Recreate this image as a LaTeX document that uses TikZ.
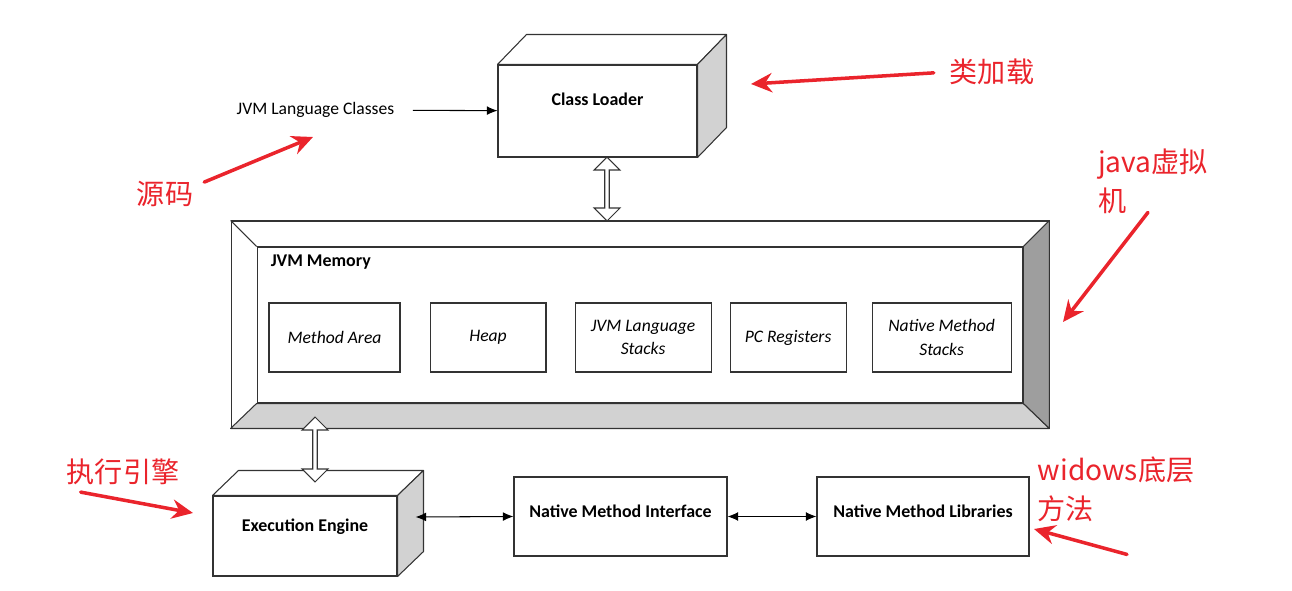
\documentclass[tikz,border=0pt]{standalone}
\usepackage{fontspec}
\setmainfont{Carlito}
\newfontfamily\cjk{Noto Sans CJK SC}
\usepackage{xcolor}
\usepackage{tikz}
\usetikzlibrary{positioning,arrows.meta,shapes.arrows,calc}

\definecolor{jred}{RGB}{234,36,44}
\definecolor{sidegray}{RGB}{210,210,210}
\definecolor{bevelgray}{RGB}{158,158,158}

\begin{document}
\begin{tikzpicture}[x=0.02cm, y=-0.02cm,
    >={Latex[length=6pt, width=5pt]},
    box/.style={draw=black!80, line width=0.6pt, fill=white, align=center, inner sep=2pt, minimum width=#1},
    box/.default=2.32cm,
    membox/.style={box=#1, minimum height=1.38cm, font=\itshape\fontsize{10}{13.5}\selectfont},
    membox/.default=2.32cm,
    face/.style={draw=black!80, line width=0.6pt, fill=#1, line join=round},
    face/.default=white,
    bold/.style={font=\bfseries\fontsize{10.2}{12}\selectfont},
    plain/.style={font=\fontsize{10}{12}\selectfont},
    dblarrow/.style={double arrow, draw=black!80, line width=0.6pt, fill=white, rotate=90,
        minimum width=0.52cm, double arrow head extend=0.05cm, double arrow tip angle=90, inner sep=0pt},
    arr/.style={->, line width=0.6pt},
    biarr/.style={<->, line width=0.6pt},
    notetext/.style={font=\cjk\fontsize{16}{22}\selectfont, text=jred, align=left, inner sep=1pt},
    note/.style={draw=jred, line width=2pt, line cap=round, -{Stealth[length=12pt, width=11pt, inset=4pt]}},
]
\useasboundingbox (0,0) rectangle (1292,591);

% --- Class Loader ---
\node[box=3.98cm, minimum height=1.84cm] (loader) at (597.5,111) {};
\filldraw[face] (loader.north west) -- ++(29,-30) -- ([shift={(29,-30)}]loader.north east) -- (loader.north east) -- cycle;
\filldraw[face=sidegray] (loader.north east) -- ++(29,-30) -- ([shift={(29,-30)}]loader.south east) -- (loader.south east) -- cycle;
\node[bold] (loadertxt) at ([yshift=0.24cm]loader.center) {Class Loader};

% source classes
\node[plain] (classes) at (315.5,110) {JVM Language Classes};
\draw[arr, shorten <=0.25cm] (classes) -- (loader);

% --- JVM Memory ---
\node[box=16.36cm, minimum height=4.14cm] (mem) at (640,324.5) {};
\node[box=15.32cm, minimum height=3.12cm] (meminner) at (640,325) {};
\filldraw[face=sidegray] (mem.south west) -- (mem.south east) -- (meminner.south east) -- (meminner.south west) -- cycle;
\filldraw[face=bevelgray] (mem.south east) -- (mem.north east) -- (meminner.north east) -- (meminner.south east) -- cycle;
\draw[face] (mem.north west) -- (meminner.north west);
\node[bold, anchor=west] (memtitle) at ([shift={(8,16)}]meminner.north west) {JVM Memory};

% memory areas
\node[membox=2.62cm] (area) at (334.5,337.5) {Method Area};
\node[membox, right=0.58cm of area] (heap) {Heap};
\node[membox=2.72cm, right=0.56cm of heap] (jstacks) {JVM Language\\Stacks};
\node[membox, right=0.36cm of jstacks] (pcreg) {PC Registers};
\node[membox=2.78cm, right=0.5cm of pcreg] (nstacks) {Native Method\\Stacks};

% loader <-> memory
\node[dblarrow, minimum height=1.28cm] (loadmem) at ([xshift=0.19cm]$(loader.south)!0.5!(loader.south |- mem.north)$) {};

% --- Execution Engine ---
\node[box=3.68cm, minimum height=1.6cm] (engine) at (305,536) {};
\filldraw[face] (engine.north west) -- ++(26,-25) -- ([shift={(26,-25)}]engine.north east) -- (engine.north east) -- cycle;
\filldraw[face=sidegray] (engine.north east) -- ++(26,-25) -- ([shift={(26,-25)}]engine.south east) -- (engine.south east) -- cycle;
\node[bold] (enginetxt) at ([yshift=0.18cm]engine.center) {Execution Engine};

% memory <-> engine
\node[dblarrow, minimum height=1.3cm] (memeng) at (315,449.5) {};

% --- Native interface and libraries ---
\node[box=4.26cm, minimum height=1.58cm] (nmi) at (620.5,516.5) {};
\node[bold] (nmitxt) at ([yshift=0.1cm]nmi.center) {Native Method Interface};
\node[box=4.24cm, minimum height=1.58cm, right=1.78cm of nmi] (nml) {};
\node[bold] (nmltxt) at ([yshift=0.1cm]nml.center) {Native Method Libraries};

\coordinate (engside) at ([shift={(18,-19)}]engine.east);
\draw[biarr] (engside) -- (nmi.west);
\draw[biarr] (nmi) -- (nml);

% --- Red notes ---
\node[notetext] (lblload) at (992,72) {类加载};
\node[notetext] (lblsrc) at (165,194) {源码};
\node[notetext] (lbljvm) at (1153,181) {java虚拟\\机};
\node[notetext] (lblexec) at (123,472) {执行引擎};
\node[notetext] (lblwin) at (1116,489) {widows底层\\方法};

\coordinate (ldtip) at (751,84);
\coordinate (srctip) at (313,137);
\coordinate (jvmtip) at (1063,322);
\coordinate (exectip) at (193,513);
\coordinate (wintip) at (1034,529);

\draw[note, shorten <=0.28cm] (lblload.west) -- (ldtip);
\draw[note] ([shift={(9,3)}]lblsrc.north east) -- (srctip);
\draw[note] ([shift={(-5,-3)}]lbljvm.south) -- (jvmtip);
\draw[note] ([shift={(16,5)}]lblexec.south west) -- (exectip);
\draw[note] ([shift={(11,31)}]lblwin.south) -- (wintip);

\end{tikzpicture}
\end{document}
